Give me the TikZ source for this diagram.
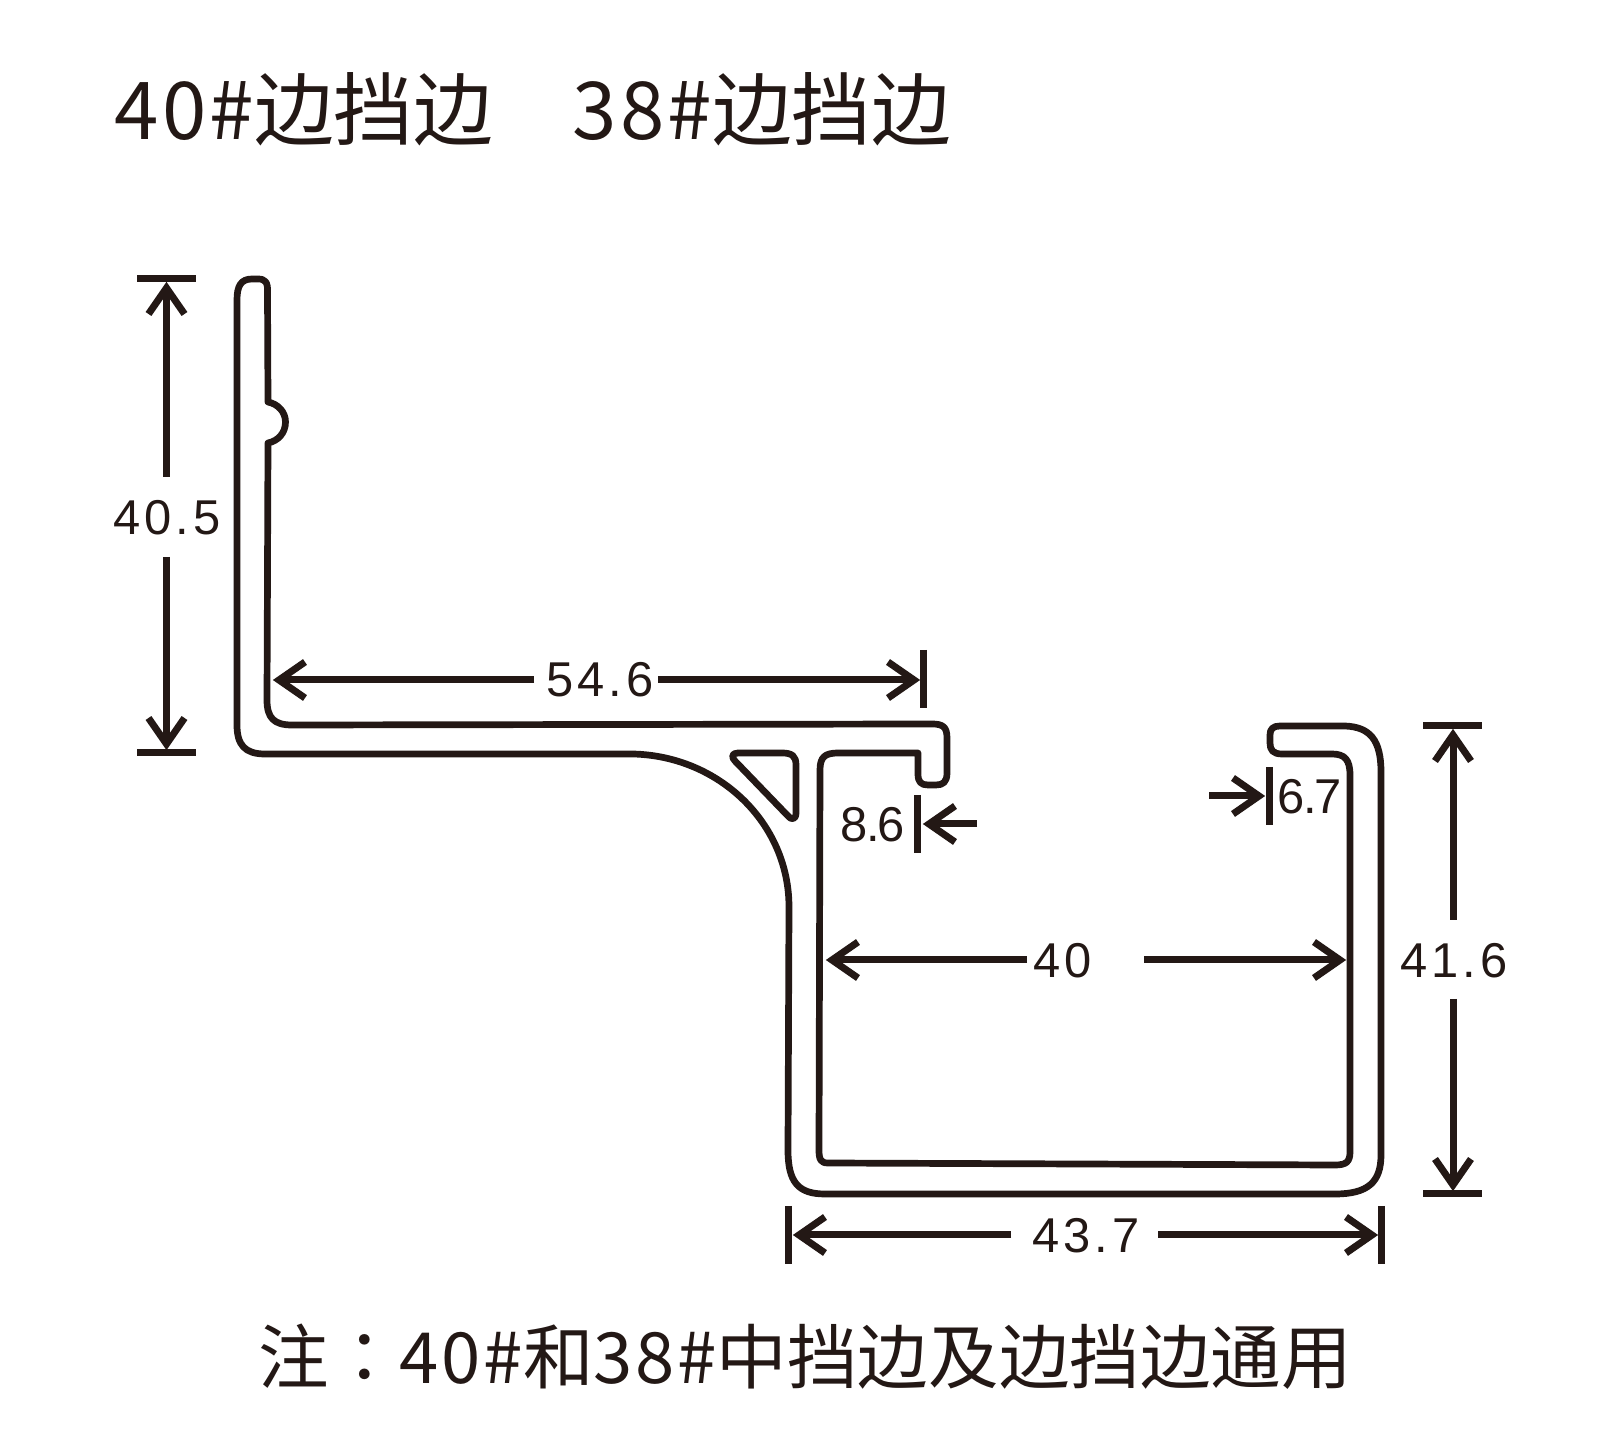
\documentclass[tikz,border=0pt]{standalone}
\usepackage{fontspec}
\newfontfamily\cjksc{Noto Sans CJK SC}
\newfontfamily\cjktc{Noto Sans CJK TC}
\newfontfamily\titledigits[LetterSpace=4]{Noto Sans CJK SC}
\newfontfamily\dimfont[LetterSpace=8]{Liberation Sans}
\newfontfamily\dimtight[LetterSpace=-4]{Liberation Sans}
\definecolor{ink}{HTML}{231815}
\tikzset{
  px/.style={x=0.01cm,y=-0.01cm},
  profile/.style={draw=ink,line width=0.067cm,line join=round},
  dimline/.style={draw=ink,line width=0.07cm,line cap=butt,line join=miter,miter limit=10},
  dimlabel/.style={text=ink,inner sep=0pt,anchor=base,font=\fontsize{13.9pt}{16pt}\dimfont},
  dimlabeltight/.style={text=ink,inner sep=0pt,anchor=base,font=\fontsize{13.9pt}{16pt}\dimtight},
  titletext/.style={text=ink,inner sep=0pt,anchor=base west,font=\fontsize{22.7pt}{26pt}\cjksc},
  foottext/.style={text=ink,inner sep=0pt,anchor=base west,font=\fontsize{20.07pt}{24pt}\cjksc}
}
% shaft start, tip, cross coordinate, direction sign (+1: tip points towards larger coordinate)
\newcommand{\harr}[4]{\draw[dimline] (#1,#3) -- (#2-#4*6,#3);
  \draw[dimline] (#2-#4*32,#3-18) -- (#2-#4*6,#3) -- (#2-#4*32,#3+18);}
\newcommand{\varr}[4]{\draw[dimline] (#3,#1) -- (#3,#2-#4*6);
  \draw[dimline] (#3-18,#2-#4*32) -- (#3,#2-#4*6) -- (#3+18,#2-#4*32);}
\begin{document}
\begin{tikzpicture}[px]
\fill[white] (0,0) rectangle (1611,1443);
\useasboundingbox (0,0) rectangle (1611,1443);

% titles
\node[titletext] (t1) at (114,140) {{\titledigits 40\#}边挡边};
\node[titletext] (t2) at (572,140) {{\titledigits 38\#}边挡边};
\node[foottext] (foot) at (258,1384) {注{\cjktc ：}{\titledigits 40\#}和{\titledigits 38\#}中挡边及边挡边通用};

% main profile
\draw[profile] (237,300) .. controls (237,286) and (241,279) .. (252,279) -- (258,279)
  .. controls (265,279) and (268,282) .. (267.5,292) -- (268,402)
  .. controls (278,404) and (285.5,412) .. (285.5,422)
  .. controls (285.5,433) and (278,441) .. (268,443)
  -- (267,700) .. controls (267,718) and (274,725) .. (292,725)
  -- (932,724) .. controls (943,724) and (947,727) .. (947,738)
  -- (947,773) .. controls (947,782) and (943,785) .. (936,785)
  -- (928,785) .. controls (921,785) and (918,782) .. (918,774)
  -- (918,753) -- (838,753) .. controls (825,753) and (820,757) .. (820,770)
  -- (819,1150) .. controls (819,1160) and (821,1163) .. (828,1163)
  -- (1335,1165) .. controls (1346,1165) and (1350,1162) .. (1350,1152)
  -- (1350,775) .. controls (1350,760) and (1345,754) .. (1332,754)
  -- (1282,754) .. controls (1273,754) and (1270,750) .. (1270,743)
  -- (1270,735) .. controls (1270,729) and (1273,726) .. (1280,726)
  -- (1345,726) .. controls (1370,727) and (1381,740) .. (1381,772)
  -- (1381,1155) .. controls (1381,1182) and (1368,1194) .. (1335,1194)
  -- (825,1194) .. controls (798,1194) and (788,1182) .. (788,1150)
  -- (789,907) .. controls (789,823) and (719,756) .. (633,754)
  -- (265,754) .. controls (245,754) and (237,745) .. (237,725) -- cycle;

% triangle hole
\draw[profile] (738,753) -- (782,753) .. controls (792,753) and (796,756) .. (796,765)
  -- (796,813) .. controls (796,820) and (791,820) .. (788,816)
  -- (735,761) .. controls (731,757) and (732,753) .. (738,753) -- cycle;

% 40.5
\draw[dimline] (137,279) -- (196,279);
\draw[dimline] (137,753) -- (196,753);
\varr{477}{282}{166.5}{-1}
\varr{557}{750}{166.5}{1}
\node[dimlabel] (d405) at (167,534.5) {40.5};

% 54.6
\draw[dimline] (923,650) -- (923,708);
\harr{534}{273}{680}{-1}
\harr{658}{920}{680}{1}
\node[dimlabel] (d546) at (600,697) {54.6};

% 8.6
\draw[dimline] (917,795) -- (917,853);
\harr{977}{923}{824}{-1}
\node[dimlabeltight] (d86) at (873,841.5) {8.6};

% 6.7
\draw[dimline] (1269,767) -- (1269,825);
\harr{1209}{1265}{796}{1}
\node[dimlabeltight] (d67) at (1310,814) {6.7};

% 40
\harr{1027}{826}{960}{-1}
\harr{1144}{1346}{960}{1}
\node[dimlabel] (d40) at (1063,977.5) {40};

% 41.6
\draw[dimline] (1423,726) -- (1482,726);
\draw[dimline] (1423,1194) -- (1482,1194);
\varr{920}{729}{1453}{-1}
\varr{999}{1191}{1453}{1}
\node[dimlabel] (d416) at (1454,977.5) {41.6};

% 43.7
\draw[dimline] (788,1206) -- (788,1264);
\draw[dimline] (1381,1206) -- (1381,1264);
\harr{1011}{793}{1235}{-1}
\harr{1158}{1378}{1235}{1}
\node[dimlabel] (d437) at (1086,1252.5) {43.7};
\end{tikzpicture}
\end{document}
